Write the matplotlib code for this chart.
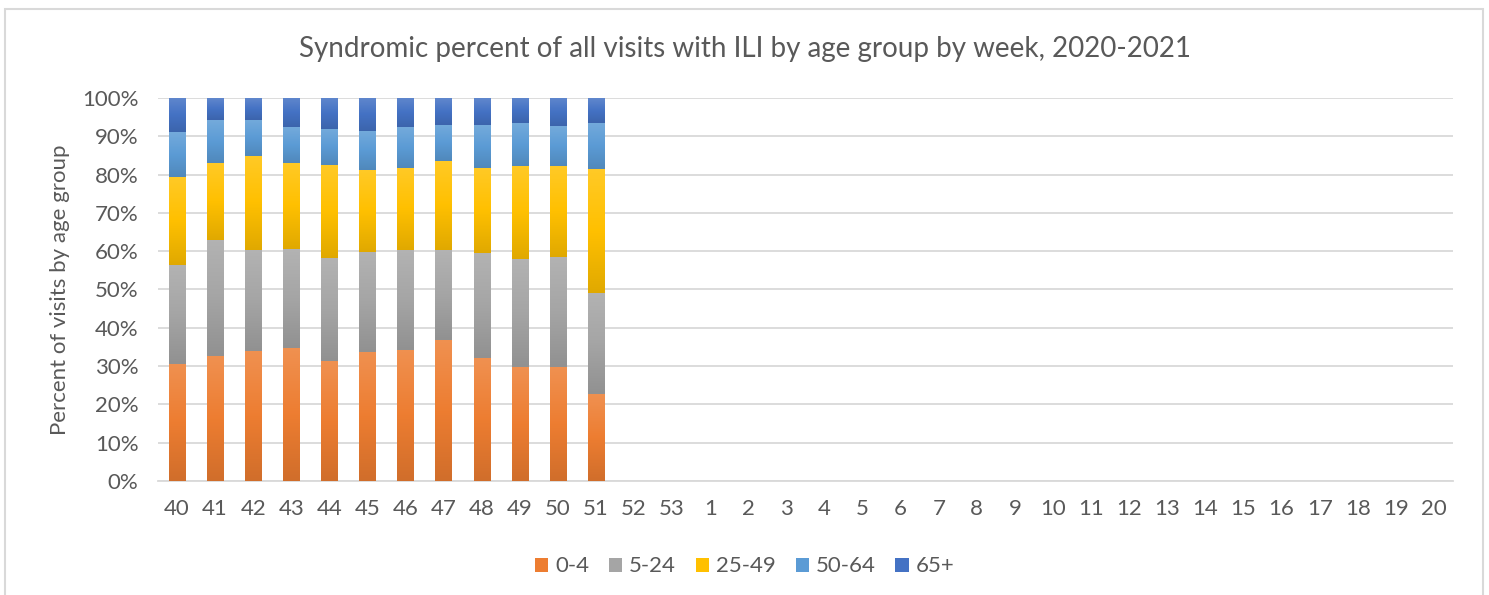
import matplotlib
matplotlib.use('Agg')
import matplotlib.pyplot as plt
import numpy as np
from matplotlib.colors import LinearSegmentedColormap, to_rgb
from matplotlib.patches import Rectangle

plt.rcParams['font.family'] = ['Lato', 'DejaVu Sans']

weeks = ['40', '41', '42', '43', '44', '45', '46', '47', '48', '49', '50', '51',
         '52', '53', '1', '2', '3', '4', '5', '6', '7', '8', '9', '10', '11',
         '12', '13', '14', '15', '16', '17', '18', '19', '20']

# percent of visits per age group, weeks 40-51 (rest of season has no data yet)
age_0_4 = [30.6, 32.6, 33.9, 34.7, 31.3, 33.7, 34.3, 36.7, 32.1, 29.7, 29.7, 22.6]
age_5_24 = [25.7, 30.4, 26.3, 25.8, 26.9, 26.2, 25.9, 23.5, 27.4, 28.2, 28.9, 26.6]
age_25_49 = [23.1, 20.1, 24.7, 22.6, 24.3, 21.2, 21.6, 23.4, 22.3, 24.3, 23.6, 32.3]
age_50_64 = [11.6, 11.2, 9.4, 9.2, 9.4, 10.2, 10.5, 9.4, 11.2, 11.2, 10.4, 12.1]
age_65_up = [9.0, 5.7, 5.7, 7.7, 8.1, 8.7, 7.7, 7.0, 7.0, 6.6, 7.4, 6.4]

groups = ['0-4', '5-24', '25-49', '50-64', '65+']
colors = ['#ED7D31', '#A5A5A5', '#FFC000', '#5B9BD5', '#4472C4']
series = [age_0_4, age_5_24, age_25_49, age_50_64, age_65_up]

text_col = '#595959'
grid_col = '#D9D9D9'


def shade(col, f):
    # f > 0 lightens towards white, f < 0 darkens
    c = np.array(to_rgb(col))
    return c + (1 - c) * f if f > 0 else c * (1 + f)


fig = plt.figure(figsize=(14.89, 5.95), dpi=100)
ax = fig.add_axes([0.1061, 0.1916, 0.8697, 0.6437])

x = np.arange(len(weeks))
n = len(age_0_4)
bottom = np.zeros(n)
grad = np.linspace(0, 1, 64).reshape(-1, 1)
for vals, col, lab in zip(series, colors, groups):
    vals = np.array(vals)
    bars = ax.bar(x[:n], vals, 0.43, bottom=bottom, color=col, label=lab, zorder=3)
    # Excel-style vertical gradient fill: darker at the bottom, lighter on top
    cmap = LinearSegmentedColormap.from_list(
        lab, [shade(col, -0.12), to_rgb(col), shade(col, 0.15)])
    for b in bars:
        x0, y0 = b.get_x(), b.get_y()
        im = ax.imshow(grad, cmap=cmap, origin='lower', aspect='auto', zorder=3.5,
                       extent=(x0, x0 + b.get_width(), y0, y0 + b.get_height()))
        im.set_clip_path(b)
    bottom += vals

ax.set_xlim(-0.5, len(weeks) - 0.5)
ax.set_ylim(0, 100)
ax.set_yticks(np.arange(0, 101, 10))
ax.set_yticklabels([f'{v}%' for v in range(0, 101, 10)])
ax.set_xticks(x)
ax.set_xticklabels(weeks)
ax.tick_params(axis='both', length=0, labelsize=16, colors=text_col)
ax.tick_params(axis='x', pad=13)
ax.tick_params(axis='y', pad=14)
ax.yaxis.grid(True, color=grid_col, linewidth=1.3, zorder=0)
for s in ['top', 'right', 'left']:
    ax.spines[s].set_visible(False)
ax.spines['bottom'].set_color(grid_col)
ax.spines['bottom'].set_linewidth(1.3)

ax.set_ylabel('Percent of visits by age group', fontsize=16, color=text_col, labelpad=9)
fig.text(0.5003, 0.918, 'Syndromic percent of all visits with ILI by age group by week, 2020-2021',
         ha='center', va='center', fontsize=20, color=text_col)

fig.legend(loc='center', bbox_to_anchor=(0.5, 0.048), ncol=5, frameon=False,
           fontsize=16, labelcolor=text_col, handlelength=0.6, handleheight=0.6,
           handletextpad=0.3, columnspacing=0.9)

# chart border
fig.patches.append(Rectangle((5 / 1489, -0.05), 1478 / 1489, 1 - 9 / 595 + 0.05,
                             transform=fig.transFigure, fill=False,
                             edgecolor=grid_col, linewidth=1.5))

fig.savefig('out.png', dpi=100)
